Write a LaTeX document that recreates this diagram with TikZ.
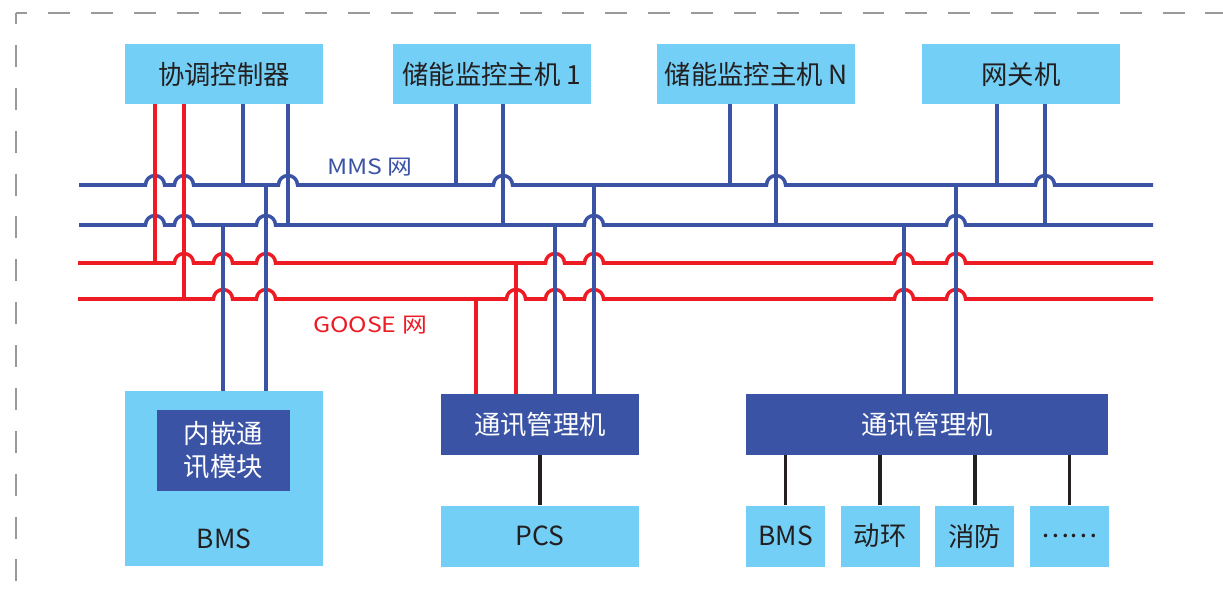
\documentclass[tikz,border=0pt]{standalone}
\usepackage{fontspec}
\setmainfont{Noto Sans CJK SC}
\newfontfamily\buslabelfont{Noto Sans CJK SC}[FakeStretch=1.18]
\usetikzlibrary{positioning}
\definecolor{lightblue}{RGB}{115,207,245}
\definecolor{darkblue}{RGB}{58,83,164}
\definecolor{busred}{RGB}{237,28,36}
\definecolor{textgray}{RGB}{35,31,32}

\begin{document}
\begin{tikzpicture}[x=0.02cm, y=-0.02cm, font=\fontsize{15}{18.7}\selectfont,
lbox/.style={fill=lightblue, text=textgray, inner sep=0pt, minimum width=3.96cm, minimum height=1.2cm},
dbox/.style={fill=darkblue, text=white, inner sep=0pt, align=center, minimum height=1.22cm},
mms/.style={draw=darkblue, line width=2pt},
goose/.style={draw=busred, line width=2pt},
link/.style={draw=textgray, line width=2pt},
frame/.style={draw=gray!80, line width=1.1pt, dash pattern=on 12.5pt off 11.9pt, dash phase=6.2pt},
buslabel/.style={font=\buslabelfont\fontsize{12}{14}\selectfont}]
\useasboundingbox (0,0) rectangle (1223,594);
\coordinate (corner) at (16,13);
\draw[frame] (corner) -- (16,594);
\draw[frame] (corner) -- (1223,13);

\node[lbox] (cc) at (224,74) {协调控制器};
\node[lbox, right=1.38cm of cc] (host1) {储能监控主机 1};
\node[lbox, right=1.32cm of host1] (hostn) {储能监控主机 N};
\node[lbox, right=1.32cm of hostn] (gw) {网关机};

\node[lbox, minimum height=3.5cm] (bms) at (224,478.5) {};
\node[dbox, minimum width=2.66cm, minimum height=1.62cm] (emb) at (223.5,450.5) {内嵌通\\讯模块};
\node[text=textgray] (bmsname) at (224,539) {BMS};
\node[dbox, minimum width=3.96cm] (comm1) at (540,424.5) {通讯管理机};
\node[lbox, minimum height=1.22cm, below=1cm of comm1] (pcs) {PCS};
\node[dbox, minimum width=7.24cm] (comm2) at (927,424.5) {通讯管理机};
\node[lbox, minimum width=1.58cm, minimum height=1.22cm, below=1cm of comm2.south west, anchor=north west] (subbms) {BMS};
\node[lbox, minimum width=1.58cm, minimum height=1.22cm, right=0.3cm of subbms] (env) {动环};
\node[lbox, minimum width=1.58cm, minimum height=1.22cm, right=0.3cm of env] (fire) {消防};
\node[lbox, minimum width=1.58cm, minimum height=1.22cm, right=0.3cm of fire] (more) {……};

\node[buslabel, text=darkblue] (mmslabel) at (370,167) {MMS 网};
\node[buslabel, text=busred] (gooselabel) at (370,325) {GOOSE 网};

\coordinate (m1w) at (79,185); \coordinate (m1e) at (1153,185);
\coordinate (m2w) at (79,225); \coordinate (m2e) at (1153,225);
\coordinate (g1w) at (78,263); \coordinate (g1e) at (1153,263);
\coordinate (g2w) at (78,299); \coordinate (g2e) at (1153,299);

\draw[mms] (m1w) foreach \h in {155,184,288,503,776,1045} { -- (\h-9.5,185) arc[start angle=180, end angle=0, radius=0.19cm] } -- (m1e);
\draw[mms] (m2w) foreach \h in {155,184,266,594,956} { -- (\h-9.5,225) arc[start angle=180, end angle=0, radius=0.19cm] } -- (m2e);
\draw[goose] (g1w) foreach \h in {184,223,266,555,594,904,956} { -- (\h-9.5,263) arc[start angle=180, end angle=0, radius=0.19cm] } -- (g1e);
\draw[goose] (g2w) foreach \h in {223,266,516,555,594,904,956} { -- (\h-9.5,299) arc[start angle=180, end angle=0, radius=0.19cm] } -- (g2e);

\coordinate (cc1) at (155,263); \coordinate (cc2) at (184,299);
\coordinate (cc3) at (243,185); \coordinate (cc4) at (288,225);
\coordinate (h1a) at (456,185); \coordinate (h1b) at (503,225);
\coordinate (hna) at (730,185); \coordinate (hnb) at (776,225);
\coordinate (gwa) at (997,185); \coordinate (gwb) at (1045,225);
\coordinate (bmsa) at (223,225); \coordinate (bmsb) at (266,185);
\coordinate (cm1a) at (476,299); \coordinate (cm1b) at (516,263);
\coordinate (cm1c) at (555,225); \coordinate (cm1d) at (594,185);
\coordinate (cm2a) at (904,225); \coordinate (cm2b) at (956,185);

\draw[goose] (cc.south -| cc1) -- (cc1);
\draw[goose] (cc.south -| cc2) -- (cc2);
\draw[mms] (cc.south -| cc3) -- (cc3);
\draw[mms] (cc.south -| cc4) -- (cc4);
\draw[mms] (host1.south -| h1a) -- (h1a);
\draw[mms] (host1.south -| h1b) -- (h1b);
\draw[mms] (hostn.south -| hna) -- (hna);
\draw[mms] (hostn.south -| hnb) -- (hnb);
\draw[mms] (gw.south -| gwa) -- (gwa);
\draw[mms] (gw.south -| gwb) -- (gwb);

\draw[mms] (bmsa) -- (bmsa |- bms.north);
\draw[mms] (bmsb) -- (bmsb |- bms.north);
\draw[goose] (cm1a) -- (cm1a |- comm1.north);
\draw[goose] (cm1b) -- (cm1b |- comm1.north);
\draw[mms] (cm1c) -- (cm1c |- comm1.north);
\draw[mms] (cm1d) -- (cm1d |- comm1.north);
\draw[mms] (cm2a) -- (cm2a |- comm2.north);
\draw[mms] (cm2b) -- (cm2b |- comm2.north);

\draw[link] (comm1) -- (pcs);
\draw[link] (subbms.north) -- (subbms.north |- comm2.south);
\draw[link] (env.north) -- (env.north |- comm2.south);
\draw[link] (fire.north) -- (fire.north |- comm2.south);
\draw[link] (more.north) -- (more.north |- comm2.south);
\end{tikzpicture}
\end{document}
